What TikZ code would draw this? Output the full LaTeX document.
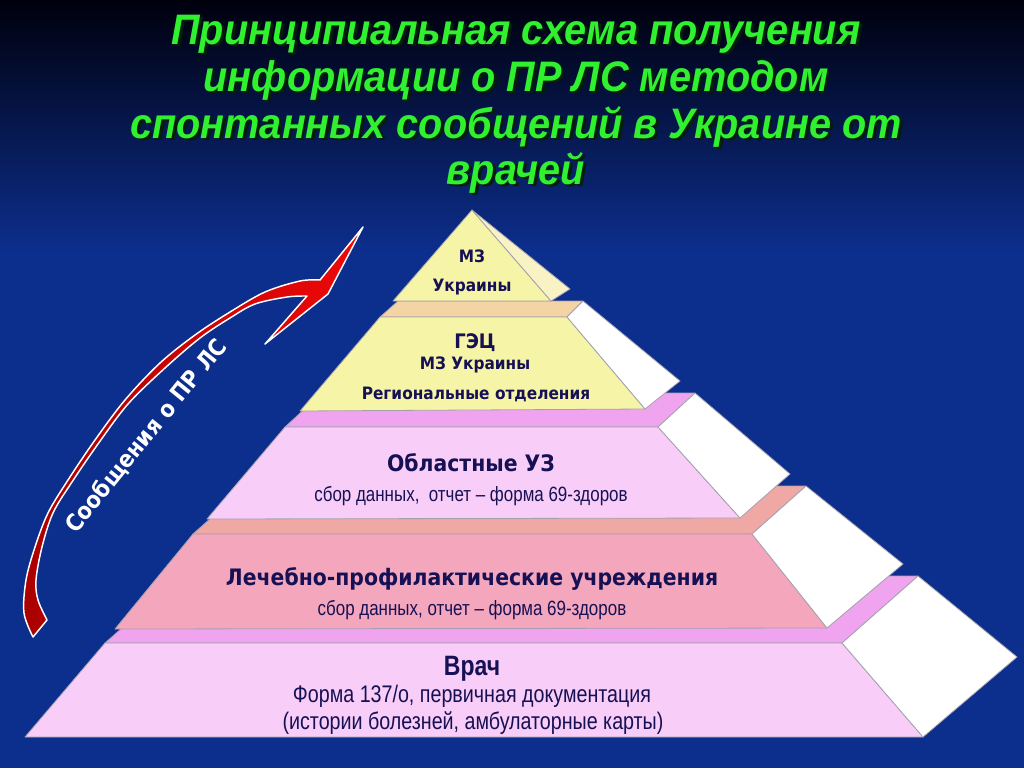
\documentclass[tikz,border=0pt]{standalone}
\usepackage{fontspec}
\setmainfont{Liberation Sans}
\newfontfamily\ttlfont[FakeStretch=0.93]{Liberation Sans}
\newfontfamily\hdfont[FakeStretch=0.9]{DejaVu Sans}
\newfontfamily\nrwfont[FakeStretch=0.82]{Liberation Sans}
\definecolor{bgblue}{RGB}{12,46,140}
\definecolor{ttlgreen}{RGB}{48,240,48}
\definecolor{ttlshadow}{RGB}{4,30,8}
\definecolor{yel}{RGB}{246,244,166}
\definecolor{yelside}{RGB}{248,242,196}
\definecolor{beige}{RGB}{244,212,164}
\definecolor{pinktop}{RGB}{240,164,240}
\definecolor{pinkfront}{RGB}{248,206,248}
\definecolor{salmontop}{RGB}{240,168,164}
\definecolor{salmonfront}{RGB}{244,166,188}
\definecolor{navy}{RGB}{22,16,84}
\definecolor{edgegray}{RGB}{165,160,175}
\definecolor{darkred}{RGB}{170,0,0}
\definecolor{brightred}{RGB}{240,8,8}
\newcommand\shadowtxt[1]{\rlap{\hspace{2.2pt}\raisebox{-2.2pt}{\textcolor{ttlshadow}{#1}}}#1}
\begin{document}
\begin{tikzpicture}[x=0.75pt,y=-0.75pt,
  face/.style={draw=edgegray,line width=0.6pt,line join=round},
  txt/.style={anchor=base,inner sep=0pt,text=navy},
  ttl/.style={anchor=base,inner sep=0pt,text=ttlgreen,font=\ttlfont\bfseries\itshape\fontsize{32}{36}\selectfont},
  hd/.style={txt,font=\hdfont\bfseries\fontsize{17}{20}\selectfont},
  hdmid/.style={txt,font=\hdfont\bfseries\fontsize{15}{18}\selectfont},
  hdsm/.style={txt,font=\hdfont\bfseries\fontsize{12.8}{15}\selectfont},
  sub/.style={txt,font=\nrwfont\fontsize{15.5}{18}\selectfont},
  subbig/.style={txt,font=\nrwfont\fontsize{18}{21}\selectfont}]
\useasboundingbox (0,0) rectangle (1024,768);
% background
\fill[bgblue] (0,0) rectangle (1024,768);
\shade[top color=black!95!blue,bottom color=bgblue] (0,0) rectangle (1024,250);

% title
\node[ttl] (ttl1) at (516,44) {\shadowtxt{Принципиальная схема получения}};
\node[ttl] (ttl2) at (516,91) {\shadowtxt{информации о ПР ЛС методом}};
\node[ttl] (ttl3) at (516,138) {\shadowtxt{спонтанных сообщений в Украине от}};
\node[ttl] (ttl4) at (516,184) {\shadowtxt{врачей}};

% level 5
\fill[pinktop,face] (105,643) -- (181,576) -- (918,576) -- (842,643) -- cycle;
\fill[pinkfront,face] (25,737) -- (105,643) -- (842,643) -- (923,737) -- cycle;
\fill[white,face] (842,643) -- (918,576) -- (1017,657) -- (923,737) -- cycle;
% level 4
\fill[salmontop,face] (193,534) -- (247,486) -- (806,486) -- (752,534) -- cycle;
\fill[salmonfront,face] (115,629) -- (193,534) -- (752,534) -- (827,628) -- cycle;
\fill[white,face] (752,534) -- (806,486) -- (903,564) -- (827,628) -- cycle;
% level 3
\fill[pinktop,face] (285,427) -- (322,393) -- (695,393) -- (658,427) -- cycle;
\fill[pinkfront,face] (207,519) -- (285,427) -- (658,427) -- (740,518) -- cycle;
\fill[white,face] (658,427) -- (695,393) -- (790,474) -- (740,518) -- cycle;
% level 2
\fill[beige,face] (380,317) -- (398,301) -- (583,301) -- (567,317) -- cycle;
\fill[yel,face] (300,411) -- (380,317) -- (567,317) -- (645,409) -- cycle;
\fill[white,face] (567,317) -- (583,301) -- (680,381) -- (645,409) -- cycle;
% level 1
\fill[yel,face] (393,301) -- (472,210) -- (551,301) -- cycle;
\fill[yelside,face] (472,210) -- (570,289) -- (551,301) -- cycle;

% texts
\node[hdsm] (t1a) at (472,262) {МЗ};
\node[hdsm] (t1b) at (472,291) {Украины};
\node[hdmid] (t2a) at (475,348) {ГЭЦ};
\node[hdsm] (t2b) at (475,369) {МЗ Украины};
\node[hdsm] (t2c) at (476,399) {Региональные отделения};
\node[hd] (t3a) at (471,471) {Областные УЗ};
\node[sub] (t3b) at (471,501) {сбор данных,\ \ отчет – форма 69-здоров};
\node[hd] (t4a) at (472,585) {Лечебно-профилактические учреждения};
\node[sub] (t4b) at (472,615) {сбор данных, отчет – форма 69-здоров};
\node[txt,font=\nrwfont\bfseries\fontsize{21}{24}\selectfont] (t5a) at (472,675) {Врач};
\node[subbig] (t5b) at (472,702) {Форма 137/о, первичная документация};
\node[subbig] (t5c) at (473,729) {(истории болезней, амбулаторные карты)};

% arrow
\shade[left color=darkred,right color=brightred,draw=white,line width=1.1pt,line join=round]
  plot[smooth,tension=0.55] coordinates {(33,637) (24,613) (26,580) (35,547) (48,513) (68,480) (95,440) (125,400) (160,363) (195,335) (230,312) (265,292) (300,281) (320,280)}
  -- (363,227) -- (328,294) -- (265,344) -- (307,296)
  -- plot[smooth,tension=0.55] coordinates {(307,296) (287,297) (255,304) (230,318) (200,338) (165,368) (128,404) (98,444) (72,482) (53,513) (42,547) (36,580) (38,600) (47,620)}
  -- cycle;
\node[inner sep=0pt,text=white,font=\hdfont\bfseries\fontsize{17.5}{20}\selectfont,rotate=51] (arrtxt) at (146,436) {Сообщения о ПР ЛС};
\end{tikzpicture}
\end{document}
